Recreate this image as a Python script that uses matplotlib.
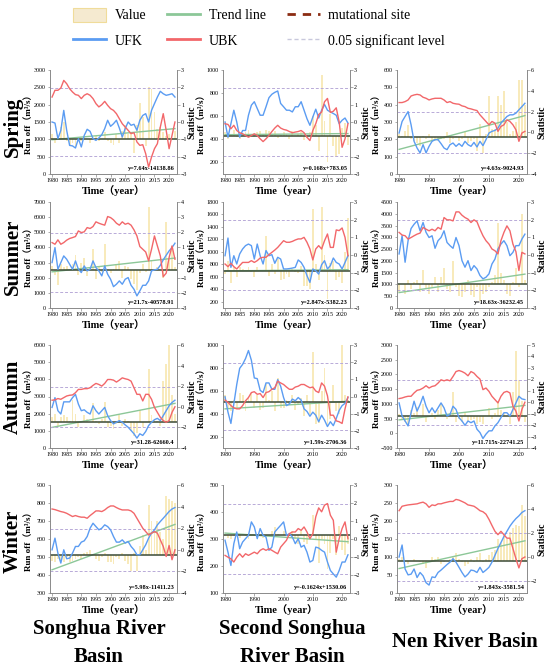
import matplotlib
matplotlib.use('Agg')
import matplotlib.pyplot as plt
import numpy as np
from matplotlib.lines import Line2D
from matplotlib.patches import Patch

plt.rcParams['font.family'] = 'serif'
plt.rcParams['font.serif'] = ['Liberation Serif', 'DejaVu Serif']

years = np.arange(1980, 2023)

# ---- Spring ----
spring_sh_runoff = [1150, 900, 1050, 1350, 1500, 950, 850, 900, 800, 1050,
                    950, 1100, 1000, 900, 1050, 1100, 950, 1000, 1200, 950,
                    900, 850, 1150, 900, 1250, 1400, 1150, 1200, 600, 1400,
                    2050, 1650, 800, 2500, 2450, 1800, 1300, 1350, 1200, 1100,
                    1150, 1050, 1250]
spring_sh_ufk = [0, -0.06, -0.96, -0.48, 0.67, -0.48, -1.35, -1.38, -1.5, -0.96,
                 -1.44, -0.77, -0.42, -0.54, -0.96, -1.06, -0.92, -0.73, -0.38, 0.1,
                 -0.25, -0.1, 0.1, -0.35, -0.87, -0.38, 0, -0.19, -0.13, -0.48,
                 0.1, 0.38, 0.48, 0, 0.67, 1.06, 1.44, 1.77, 1.63, 1.54,
                 1.58, 1.63, 1.44]
spring_sh_ubk = [1.44, 1.83, 1.83, 1.96, 2.4, 2.21, 1.92, 1.73, 1.58, 1.54,
                 1.35, 1.54, 1.63, 1.54, 1.35, 1.06, 0.87, 1.0, 1.19, 0.96,
                 0.77, 0.67, 0.48, 0.19, -0.1, -0.29, -0.48, -0.67, -0.62, -1.15,
                 -1.35, -1.31, -1.83, -2.6, -2.02, -1.54, -1.25, -0.29, 0.48, -0.48,
                 -1.54, -0.77, 0]
spring_ssh_runoff = [460, 400, 450, 480, 420, 400, 440, 460, 480, 450,
                     420, 460, 470, 440, 480, 470, 440, 470, 410, 440,
                     460, 450, 400, 470, 430, 450, 460, 390, 410, 460,
                     600, 520, 300, 960, 560, 200, 620, 340, 250, 270,
                     500, 540, 350]
spring_ssh_ufk = [0, -0.88, -0.1, 0.68, 0, -0.88, -0.49, -0.49, 0.39, 0.97,
                  1.17, 0.78, 0.39, 0.39, 0.88, 1.4, 1.6, 1.71, 1.79, 1.07,
                  0.88, 0.68, 0.68, 0.58, 0.88, 0.88, 1.17, 0.68, 0.19, -0.19,
                  0.29, 0.74, 0.23, 0.68, 1.01, 0.68, 0.58, 0.49, 0.39, -0.1,
                  0.1, 0.23, -0.06]
spring_ssh_ubk = [-0.1, -0.14, -0.39, -0.19, -0.49, -0.62, -0.68, -0.78, -0.88, -0.78,
                  -0.68, -0.78, -0.97, -1.13, -0.97, -0.78, -0.55, -0.35, -0.19, -0.35,
                  -0.43, -0.47, -0.55, -0.62, -0.58, -0.55, -0.49, -0.62, -0.88, -1.07,
                  -0.49, -0.1, 0.43, 0.58, 1.17, 1.36, 0.55, 0.62, 0.82, 0,
                  -1.46, -0.97, -0.1]
spring_nen_runoff = [230, 220, 250, 280, 200, 190, 180, 160, 220, 200,
                     230, 190, 200, 190, 200, 200, 240, 180, 200, 220,
                     190, 200, 240, 180, 190, 200, 130, 290, 120, 230,
                     450, 260, 260, 450, 400, 480, 300, 230, 250, 300,
                     540, 540, 400]
spring_nen_ufk = [-0.06, 1.05, 1.53, 2.0, 0.73, -0.86, -1.5, -1.97, -1.18, -1.97,
                  -1.34, -0.86, -0.7, -0.7, -1.08, -1.5, -1.66, -1.18, -1.02, -1.34,
                  -1.08, -1.34, -0.86, -1.18, -1.34, -0.96, -1.4, -0.86, -1.27, -0.7,
                  -0.06, 0.1, 0.19, 0.41, 0.89, 1.21, 1.53, 1.69, 1.69, 1.85,
                  2.17, 2.48, 2.8]
spring_nen_ubk = [2.87, 2.87, 2.96, 3.12, 3.5, 3.6, 3.66, 3.6, 3.38, 3.28,
                  3.12, 3.22, 3.28, 3.28, 3.28, 3.12, 2.87, 2.96, 2.8, 2.74,
                  2.71, 2.55, 2.48, 2.32, 2.26, 2.17, 2.1, 1.69, 1.37, 1.05,
                  0.73, 1.05, 0.89, 0.1, 0.57, 0.73, 1.21, 1.05, 0.73, 0.25,
                  -0.86, -0.06, 0.1]

# ---- Summer ----
summer_sh_runoff = [2800, 2200, 1500, 2900, 2700, 2800, 2600, 2900, 3500, 2200,
                    3000, 3300, 2100, 2700, 3900, 1900, 2800, 2400, 4200, 2600,
                    2300, 2600, 2900, 3100, 2000, 2800, 2700, 1900, 1600, 1200,
                    2300, 2900, 2400, 6700, 3100, 2600, 2700, 2500, 2000, 5700,
                    3300, 4100, 2700]
summer_sh_ufk = [0, 0.99, -0.44, 0, 0.44, 0.22, -0.11, -0.44, 0.11, -0.44,
                 -0.66, -0.22, -0.55, -0.44, 0.11, -0.33, -0.55, -0.88, -0.22, -0.77,
                 -1.1, -1.59, -1.43, -1.21, -1.43, -1.1, -0.99, -1.5, -1.76, -2.2,
                 -1.87, -1.5, -1.5, -1.21, -0.55, -0.48, -0.44, -0.18, 0.18, 0.48,
                 0.77, 0.99, 1.28]
summer_sh_ubk = [1.32, 1.21, 1.5, 1.21, 1.32, 1.48, 1.59, 1.65, 1.72, 2.09,
                 1.98, 2.03, 2.31, 2.25, 2.38, 2.69, 2.6, 2.53, 2.47, 3.04,
                 2.97, 2.82, 2.6, 2.47, 2.69, 2.53, 2.6, 2.47, 2.16, 1.76,
                 1.06, 0.88, 0.7, 0.11, 0.88, 1.76, 1.1, 0.44, -0.93, -0.7,
                 0.33, 1.1, 0.22]
summer_ssh_runoff = [650, 850, 500, 750, 600, 750, 720, 700, 750, 680,
                     600, 750, 700, 700, 1250, 620, 800, 650, 880, 550,
                     560, 650, 600, 720, 680, 660, 780, 450, 460, 400,
                     1680, 800, 550, 1720, 950, 240, 820, 850, 550, 600,
                     500, 1000, 1550]
summer_ssh_ufk = [-0.04, 0.96, -0.7, -0.04, -0.51, 0.06, 0.34, 0.53, 0.62, 0.53,
                  -0.23, 0.62, -0.04, -0.51, 0.25, -0.04, 0.02, -0.47, -0.13, -0.23,
                  -0.79, -0.79, -0.77, -0.74, -0.7, -0.28, -0.42, -0.7, -1.17, -1.55,
                  -0.79, -0.89, -1.08, -0.55, -0.32, -0.79, -0.6, -0.17, -0.42, -0.51,
                  -0.79, -0.42, -0.04]
summer_ssh_ubk = [-0.51, -0.66, -0.47, -0.66, -0.79, -0.6, -0.42, -0.42, -0.42, -0.32,
                  -0.42, -0.32, -0.17, -0.13, -0.13, 0.02, 0.15, 0.28, 0.43, 0.62,
                  0.81, 0.72, 0.72, 0.77, 0.85, 0.91, 0.91, 1.0, 0.72, 0.34,
                  -0.28, 0.34, 0.53, 0.34, 0.81, 1.19, 0.43, 0.43, 1.42, 1.38,
                  1.53, 1.0, -0.04]
summer_nen_runoff = [700, 1000, 600, 1200, 800, 1100, 1200, 700, 1600, 800,
                     600, 900, 1300, 700, 1300, 1700, 800, 700, 2000, 900,
                     500, 450, 700, 1200, 550, 450, 900, 300, 600, 700,
                     900, 1100, 1400, 3600, 1500, 1200, 600, 500, 1100, 1700,
                     900, 4000, 1200]
summer_nen_ufk = [0.06, 1.09, -0.41, 0.81, 1.5, 1.74, 1.93, 1.37, 1.84, 1.28,
                  0.99, 1.09, 0.38, 0.81, 0.99, 1.37, 0.71, 0.53, 0.38, 0.99,
                  0.53, -0.32, -0.69, -0.32, -0.88, -0.6, -0.79, -1.16, -1.35, -1.26,
                  -1.07, -0.51, -0.23, 0.34, 0.62, 0.81, 0.53, -0.04, 0.15, 0.53,
                  0.53, 0.9, 1.18]
summer_nen_ubk = [1.28, 1.13, 1.09, 0.9, 0.99, 1.09, 1.18, 1.24, 1.56, 1.46,
                  1.37, 1.46, 1.37, 1.56, 1.46, 2.12, 1.99, 1.99, 1.93, 2.44,
                  2.44, 2.25, 2.12, 2.03, 1.84, 1.99, 1.88, 1.46, 1.09, 0.81,
                  0.62, 0.34, 0.24, 0.06, 0.81, 1.28, 1.65, 1.37, 0.62, 0.19,
                  -0.88, 0.15, 0.06]

# ---- Autumn ----
autumn_sh_runoff = [1800, 2000, 1300, 1800, 1900, 1800, 1600, 2800, 2000, 1200,
                    1600, 1900, 1700, 1500, 2600, 1600, 1400, 1700, 2700, 1200,
                    1300, 1100, 1400, 1900, 1300, 1700, 1600, 1000, 700, 900,
                    2200, 1200, 1500, 4600, 1900, 1700, 1600, 1300, 3900, 4900,
                    6000, 3100, 2000]
autumn_sh_ufk = [-0.06, 0.89, -0.38, -0.7, 0.48, 0.48, 0.48, 0.89, 1.21, 0.26,
                 -0.38, -0.29, -0.54, -0.7, 0.1, -0.38, -0.7, -0.38, -0.06, -0.86,
                 -1.34, -1.66, -1.5, -1.34, -1.5, -1.76, -1.98, -2.3, -2.62, -3.04,
                 -2.62, -2.78, -2.4, -1.82, -1.5, -1.25, -1.12, -1.34, -0.86, -0.38,
                 0.1, 0.42, 0.64]
autumn_sh_ubk = [0.64, 0.67, 0.8, 0.73, 0.89, 1.05, 1.12, 1.15, 1.37, 1.69,
                 1.69, 1.76, 1.76, 1.85, 2.08, 2.27, 2.17, 2.01, 2.27, 2.65,
                 2.65, 2.59, 2.4, 2.59, 2.81, 2.72, 2.65, 2.49, 1.85, 1.21,
                 1.21, 0.57, 1.21, 1.21, 0.73, -0.06, -0.54, -1.02, -1.34, -1.5,
                 -1.34, -0.54, 0]
autumn_ssh_runoff = [560, 450, 420, 520, 440, 580, 560, 420, 540, 580,
                     450, 560, 430, 450, 660, 520, 600, 420, 710, 450,
                     450, 520, 480, 560, 430, 480, 540, 380, 560, 400,
                     940, 310, 320, 600, 800, 280, 350, 650, 420, 400,
                     1000, 560, 520]
autumn_ssh_ufk = [-0.02, -0.91, -1.57, -0.43, 0.7, 1.64, 1.87, 2.21, 2.68, 2.11,
                  1.08, 1.04, 0.36, 0.23, 0.79, 0.79, 0.42, 0.42, 0.98, 0.6,
                  -0.06, -0.53, -0.43, -0.15, -0.25, -0.06, -0.21, -0.72, -0.87, -1.15,
                  -0.91, -1.09, -1.47, -1.09, -1.38, -1.75, -1.47, -1.7, -1.28, -0.81,
                  -0.53, -0.4, -0.06]
autumn_ssh_ubk = [-0.21, -0.34, -0.53, -0.66, -0.72, -0.72, -0.53, -0.25, -0.06, 0.23,
                  0.28, 0.13, 0.17, -0.06, 0.23, 0.28, 0.42, 0.51, 0.89, 0.79,
                  0.7, 0.55, 0.42, 0.42, 0.55, 0.6, 0.7, 0.7, 0.6, 0.51,
                  0.55, 0.32, 0.23, 0.79, 0.6, 0.04, -1.09, -1.09, -1.42, -1.47,
                  -1.57, -0.72, -0.02]
autumn_nen_runoff = [650, 500, 400, 300, 800, 700, 900, 600, 1000, 400,
                     550, 700, 500, 800, 1000, 600, 500, 700, 1400, 400,
                     500, 400, 700, 400, 450, 500, 300, 400, 300, 600,
                     850, 500, 700, 1100, 800, 700, 600, 300, 1400, 2800,
                     1800, 1100, 400]
autumn_nen_ufk = [-0.06, -1.21, -1.64, -2.07, -0.92, 0.09, -0.78, -0.2, 0.52, -0.35,
                  -0.92, -0.49, -0.92, -0.49, -0.06, -0.49, -1.21, -1.07, -0.35, -0.63,
                  -1.35, -1.64, -2.02, -1.64, -1.79, -1.64, -2.36, -2.65, -3.17, -2.79,
                  -2.5, -2.5, -2.07, -1.79, -1.35, -0.92, -0.92, -1.21, -0.63, -0.06,
                  0.52, 0.29, 0.23]
autumn_nen_ubk = [0.32, 0.37, 0.46, 0.52, 0.52, 0.81, 1.04, 1.1, 1.24, 1.44,
                  1.24, 1.38, 1.44, 1.67, 1.96, 1.87, 1.96, 1.87, 2.25, 2.68,
                  2.77, 2.68, 2.54, 2.31, 2.68, 2.54, 2.25, 2.02, 1.1, 1.24,
                  0.95, 0.52, 0.23, -0.06, 0.52, 0.86, 0.95, 0.81, -0.35, -0.78,
                  -1.64, -0.63, 0]

# ---- Winter ----
winter_sh_runoff = [480, 470, 490, 480, 470, 500, 470, 480, 490, 500,
                    490, 520, 530, 540, 510, 490, 480, 500, 520, 470,
                    470, 460, 500, 490, 520, 480, 460, 420, 520, 420,
                    560, 620, 540, 790, 700, 640, 700, 640, 600, 840,
                    820, 810, 800]
winter_sh_ufk = [0, 1.08, -0.31, -1.23, 0, -0.83, -0.77, -0.31, 0.31, 0.31,
                 0.71, 0.83, 1.23, 2.0, 2.46, 2.15, 1.85, 2.0, 2.31, 2.15,
                 1.85, 1.23, 0.71, 0.71, 0.92, 0.62, 0.77, 0.31, 0, -0.46,
                 -0.46, 0, 0.46, 1.08, 1.54, 1.85, 2.31, 2.62, 2.92, 3.23,
                 3.54, 3.78, 3.91]
winter_sh_ubk = [3.78, 3.72, 3.63, 3.54, 3.48, 3.38, 3.23, 3.08, 3.17, 3.08,
                 3.02, 3.02, 2.92, 3.17, 3.38, 3.6, 3.6, 3.54, 3.69, 3.91,
                 4.06, 4.06, 3.91, 3.78, 3.69, 3.69, 3.69, 3.6, 3.38, 2.92,
                 2.46, 2.0, 1.69, 1.38, 1.54, 1.69, 1.54, 0.92, 0.31, -0.62,
                 0.4, -0.92, 0]
winter_ssh_runoff = [310, 305, 300, 310, 315, 305, 320, 310, 300, 310,
                     315, 320, 310, 305, 315, 310, 330, 345, 320, 315,
                     330, 310, 320, 330, 300, 280, 330, 290, 280, 320,
                     390, 300, 210, 300, 280, 190, 250, 300, 240, 350,
                     260, 240, 280]
winter_ssh_ufk = [-0.07, -0.73, -1.47, -0.26, 0.39, -0.54, -0.17, 0.02, 0.2, 0.95,
                  0.67, 0.02, 0.58, 0.2, 0.11, -0.63, -0.45, 0.39, 0.58, 0.76,
                  0.95, 0.2, 0.3, 0.11, -0.26, 0.02, -0.45, -0.35, -0.73, -1.28,
                  -1.19, -0.45, -0.5, -0.63, -0.73, -1.28, -1.75, -1.94, -2.12, -1.75,
                  -1.28, -1.28, -0.88]
winter_ssh_ubk = [-0.91, -1.01, -1.1, -1.28, -1.01, -0.82, -1.01, -0.82, -0.91, -0.82,
                  -0.73, -0.82, -0.63, -0.54, -0.63, -0.54, -0.63, -0.73, -0.82, -0.45,
                  -0.26, -0.07, 0.3, 0.39, 0.39, 0.58, 0.48, 0.67, 0.39, 0.02,
                  0.3, 1.23, 1.73, 1.51, 1.88, 1.97, 1.32, 1.04, -0.73, 0.02,
                  0.58, 0.95, 0.02]
winter_nen_runoff = [95, 100, 85, 80, 90, 95, 90, 85, 80, 70,
                     85, 100, 95, 100, 80, 85, 90, 95, 100, 110,
                     95, 85, 75, 80, 95, 85, 100, 110, 85, 95,
                     105, 115, 120, 150, 140, 160, 150, 170, 180, 190,
                     185, 245, 215]
winter_nen_ufk = [0, 1.0, -1.0, -1.49, -1.43, -1.0, -1.71, -1.29, -1.57, -2.14,
                  -2.34, -1.66, -1.71, -1.29, -1.09, -0.86, -0.63, -0.43, -0.14, -0.43,
                  -0.86, -1.29, -1.66, -1.43, -1.09, -1.14, -1.29, -0.86, -1.29, -1.09,
                  -0.86, -0.43, 0.14, 0.71, 1.2, 1.71, 2.14, 2.57, 2.91, 3.2,
                  3.43, 3.71, 3.86]
winter_nen_ubk = [3.86, 4.23, 4.29, 4.34, 4.37, 4.4, 4.43, 4.51, 4.57, 4.43,
                  4.14, 4.34, 4.29, 4.43, 4.43, 4.51, 4.57, 4.63, 4.63, 4.8,
                  4.74, 4.63, 4.51, 4.34, 4.29, 4.23, 4.06, 3.86, 3.77, 3.57,
                  3.14, 2.63, 2.14, 1.86, 2.14, 1.86, 1.57, 1.57, 0.71, -0.14,
                  -0.91, -0.14, 0]

seasons = ['Spring', 'Summer', 'Autumn', 'Winter']
basins = [['Songhua River', 'Basin'], ['Second Songhua', 'River Basin'], ['Nen River Basin']]

runoff = [[spring_sh_runoff, spring_ssh_runoff, spring_nen_runoff],
          [summer_sh_runoff, summer_ssh_runoff, summer_nen_runoff],
          [autumn_sh_runoff, autumn_ssh_runoff, autumn_nen_runoff],
          [winter_sh_runoff, winter_ssh_runoff, winter_nen_runoff]]
ufk = [[spring_sh_ufk, spring_ssh_ufk, spring_nen_ufk],
       [summer_sh_ufk, summer_ssh_ufk, summer_nen_ufk],
       [autumn_sh_ufk, autumn_ssh_ufk, autumn_nen_ufk],
       [winter_sh_ufk, winter_ssh_ufk, winter_nen_ufk]]
ubk = [[spring_sh_ubk, spring_ssh_ubk, spring_nen_ubk],
       [summer_sh_ubk, summer_ssh_ubk, summer_nen_ubk],
       [autumn_sh_ubk, autumn_ssh_ubk, autumn_nen_ubk],
       [winter_sh_ubk, winter_ssh_ubk, winter_nen_ubk]]
mean_runoff = [[1000, 430, 213], [2500, 700, 1000], [1500, 500, 600], [510, 315, 90]]
trend_1980 = [[988, 440, 142], [2387, 695, 655], [1200, 442, 455], [429, 322, 68]]
trend_2022 = [[1309, 450, 337], [3298, 715, 1438], [2600, 509, 947], [681, 290, 145]]
equations = [['y=7.64x-14138.86', 'y=0.168x+783.05', 'y=4.63x-9024.93'],
             ['y=21.7x-40578.91', 'y=2.847x-5382.23', 'y=18.63x-36232.45'],
             ['y=31.28-62660.4', 'y=1.59x-2706.36', 'y=11.715x-22741.25'],
             ['y=5.98x-11411.23', 'y=-0.1624x+1530.06', 'y=1.843x-3581.54']]

# axis ranges: (ymin, ymax, ticks)
left_axis = [[(0, 3000, range(0, 3001, 500)), (100, 1000, range(200, 1001, 200)), (0, 600, range(0, 601, 100))],
             [(0, 7000, range(0, 7001, 1000)), (100, 1800, range(200, 1801, 200)), (0, 4500, range(0, 4501, 500))],
             [(0, 6000, range(0, 6001, 1000)), (100, 1000, range(200, 1001, 200)), (-500, 3000, range(-500, 3001, 500))],
             [(300, 900, range(300, 901, 100)), (100, 500, range(100, 501, 100)), (0, 300, range(0, 301, 50))]]
right_axis = [[(-3, 3, range(-3, 4)), (-3, 3, range(-3, 4)), (-4, 6, range(-4, 7, 2))],
              [(-3, 4, range(-3, 5)), (-3, 3, range(-3, 4)), (-3, 3, range(-3, 4))],
              [(-4, 6, range(-4, 7, 2)), (-3, 3, range(-3, 4)), (-4, 5, range(-4, 6))],
              [(-4, 6, range(-4, 7, 2)), (-3, 3, range(-3, 4)), (-3, 6, range(-2, 7, 2))]]
xstep = [[5, 5, 10], [5, 5, 5], [5, 10, 10], [5, 10, 5]]

W, H = 550, 669
fig = plt.figure(figsize=(W / 100, H / 100), dpi=100)

col_x = [(50, 177), (223, 350), (397, 527)]
row_y = [(70, 174), (202, 308), (345, 448), (485, 593)]
ylabel_right_edge = [33, 206, 381]
stat_left_edge = [187, 361, 537]

bar_c = '#f6e4a4'
ufk_c = '#5b9cf2'
ubk_c = '#f2676a'
trend_c = '#8cc798'
base_c = '#3b4a36'
sig_c = '#b8aad8'
spine_c = '#8a8a8a'
cjk = ['Liberation Serif', 'Noto Sans CJK SC']

for i in range(4):
    for j in range(3):
        x0, x1 = col_x[j]
        y0, y1 = row_y[i]
        ax = fig.add_axes([x0 / W, 1 - y1 / H, (x1 - x0) / W, (y1 - y0) / H])
        vals = np.array(runoff[i][j], dtype=float)
        base = mean_runoff[i][j]
        ax.bar(years, vals - base, bottom=base, width=0.65, color=bar_c,
               alpha=0.75, linewidth=0, zorder=1)
        ax.axhline(base, color=base_c, lw=1.1, zorder=3)
        ax.plot([1980, 2022], [trend_1980[i][j], trend_2022[i][j]],
                color=trend_c, lw=1.0, zorder=2)
        lo, hi, ticks = left_axis[i][j]
        ax.set_ylim(lo, hi)
        ax.set_yticks(list(ticks))
        ax.set_xlim(1979.3, 2022.7)
        ax.set_xticks(list(range(1980, 2021, xstep[i][j])))

        ax2 = ax.twinx()
        ax2.plot(years, ufk[i][j], color=ufk_c, lw=1.0, zorder=4)
        ax2.plot(years, ubk[i][j], color=ubk_c, lw=1.0, zorder=4)
        for s in (1.96, -1.96):
            ax2.axhline(s, color=sig_c, lw=0.7, ls=(0, (3, 2)), zorder=2)
        rlo, rhi, rticks = right_axis[i][j]
        ax2.set_ylim(rlo, rhi)
        ax2.set_yticks(list(rticks))

        for a in (ax, ax2):
            a.spines['top'].set_visible(False)
            for sp in ('left', 'right', 'bottom'):
                a.spines[sp].set_color(spine_c)
                a.spines[sp].set_linewidth(0.6)
            a.tick_params(labelsize=4.3, length=1.8, width=0.5, color=spine_c, pad=1.2)
        wpx = x1 - x0
        ax.set_ylabel('Run off（m³/s）', fontsize=6.5, fontweight='bold', family=cjk)
        ax.yaxis.set_label_coords((ylabel_right_edge[j] - x0) / wpx, 0.5)
        ax2.set_ylabel('Statistic', fontsize=7, fontweight='bold')
        ax2.yaxis.set_label_coords((stat_left_edge[j] - x0) / wpx, 0.5)
        ax.set_xlabel('Time（year）', fontsize=7.5, fontweight='bold',
                      family=cjk, labelpad=1.5)
        ax.text(0.98, 0.025, equations[i][j], transform=ax.transAxes,
                ha='right', va='bottom', fontsize=4.5, fontweight='bold', zorder=6)

row_centers = [127, 257, 397, 541]
for name, yc in zip(seasons, row_centers):
    fig.text(13 / W, 1 - yc / H, name, rotation=90, ha='center', va='center',
             fontsize=15, fontweight='bold')

col_centers = [99, 292, 465]
for lines, xc in zip(basins, col_centers):
    ys = [629, 657] if len(lines) == 2 else [642]
    for line, yy in zip(lines, ys):
        fig.text(xc / W, 1 - yy / H, line, ha='center', va='center',
                 fontsize=15, fontweight='bold')

handles = [Patch(facecolor='#f5ead0', edgecolor='#f0dc9a', lw=0.8),
           Line2D([], [], color=ufk_c, lw=2),
           Line2D([], [], color=trend_c, lw=2),
           Line2D([], [], color=ubk_c, lw=2),
           Line2D([], [], color='#8b2c12', lw=2, ls=(0, (3, 2.5))),
           Line2D([], [], color='#c8c8dc', lw=1, ls=(0, (3, 2)))]
labels = ['Value', 'UFK', 'Trend line', 'UBK', 'mutational site', '0.05 significant level']
fig.legend(handles, labels, ncol=3, loc='center', bbox_to_anchor=(259 / W, 1 - 28 / H),
           frameon=False, fontsize=10, handlelength=2.4, handleheight=1.2,
           handletextpad=0.6, columnspacing=1.5, labelspacing=0.8)

fig.savefig('out.png', dpi=100)
